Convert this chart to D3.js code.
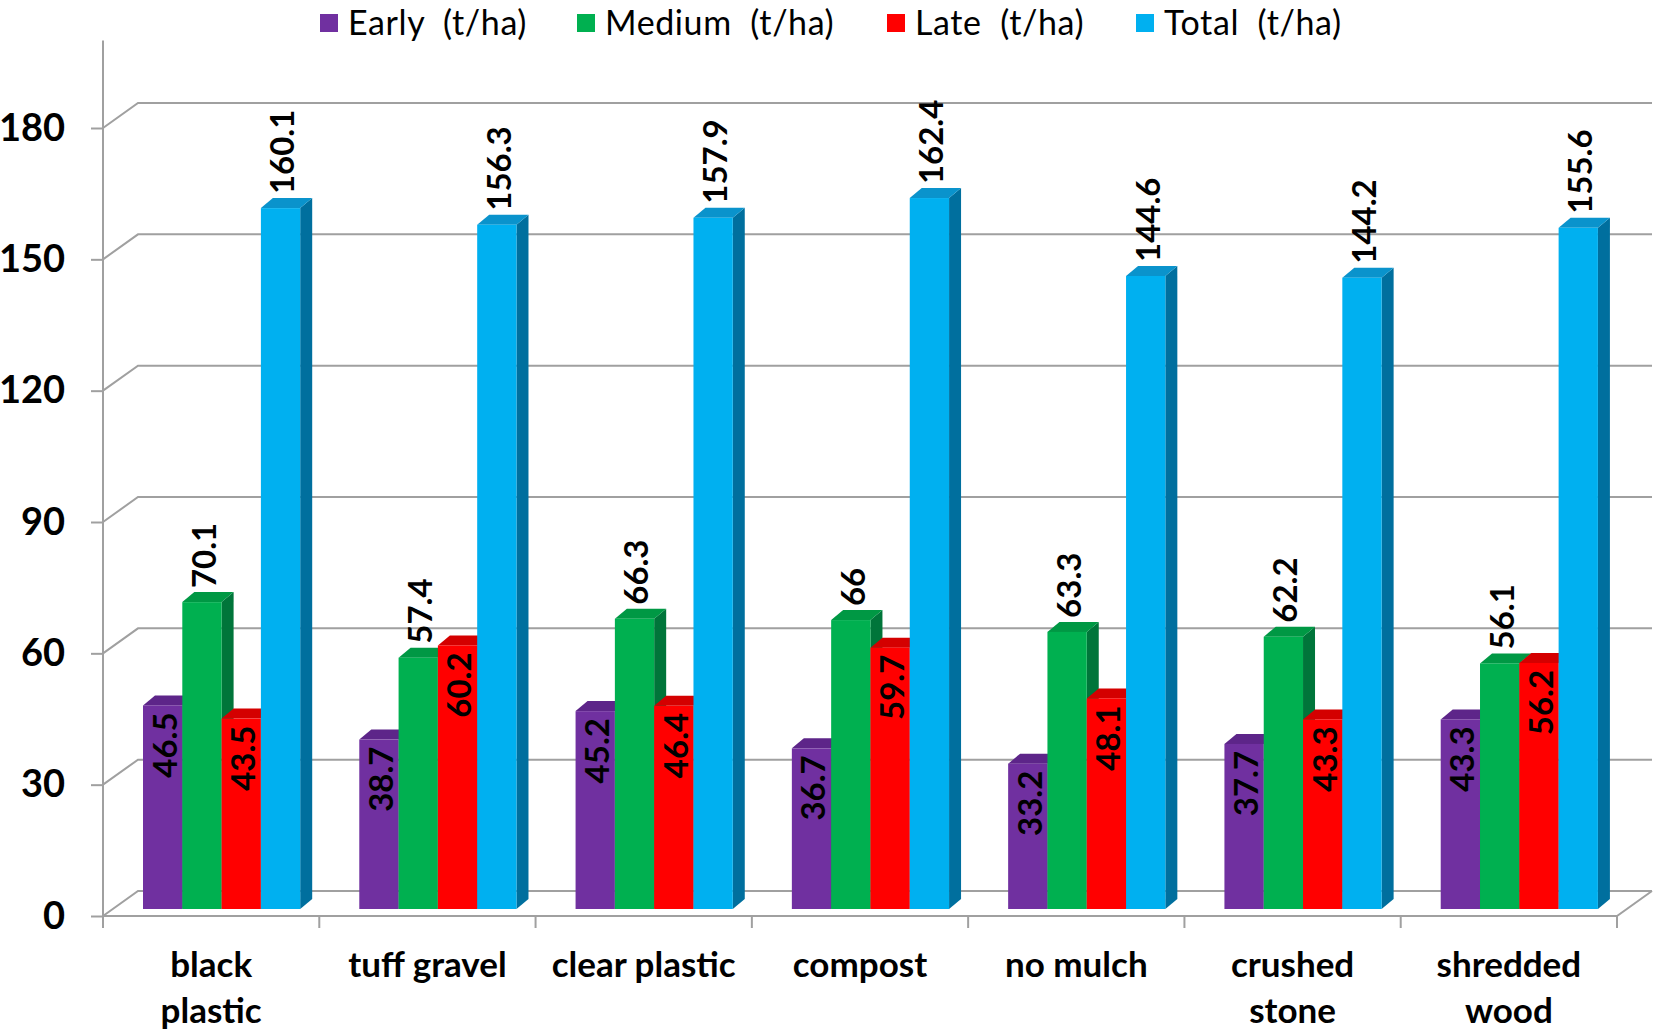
<!DOCTYPE html>
<html>
<head>
<meta charset="utf-8">
<script src="https://cdn.jsdelivr.net/npm/d3@7"></script>
<style>
  html, body { margin: 0; padding: 0; background: #ffffff; }
  svg { display: block; }
  text { font-family: Lato, "Open Sans", sans-serif; }
</style>
</head>
<body>
<svg id="chart" width="1656" height="1033"></svg>
<script>
// Yield by mulch type, in t/ha
const categories = ["black plastic", "tuff gravel", "clear plastic", "compost", "no mulch", "crushed stone", "shredded wood"];
const categoryLines = [["black", "plastic"], ["tuff gravel"], ["clear plastic"], ["compost"], ["no mulch"], ["crushed", "stone"], ["shredded", "wood"]];

const seriesNames = ["Early  (t/ha)", "Medium  (t/ha)", "Late  (t/ha)", "Total  (t/ha)"];
const early  = [46.5, 38.7, 45.2, 36.7, 33.2, 37.7, 43.3];
const medium = [70.1, 57.4, 66.3, 66, 63.3, 62.2, 56.1];
const late   = [43.5, 60.2, 46.4, 59.7, 48.1, 43.3, 56.2];
const total  = [160.1, 156.3, 157.9, 162.4, 144.6, 144.2, 155.6];
const yTicks = [0, 30, 60, 90, 120, 150, 180];

const seriesValues = [early, medium, late, total];
// label placement per series: inside the bar top or above it
const labelInside = [true, false, true, false];
const colors = {
  front: ["#7030a0", "#00b050", "#ff0000", "#00b0f0"],
  top:   ["#5d2589", "#009844", "#d40000", "#0a93cc"],
  side:  ["#4b1c6e", "#00753a", "#a80000", "#006f9e"]
};

const svg = d3.select("#chart");
const W = 1656, H = 1033;
svg.append("rect").attr("width", W).attr("height", H).attr("fill", "#ffffff");

// frame geometry
const plotLeft = 103, plotRight = 1617, plotBottom = 916, plotTop = 128;
const wallDx = 35, wallDy = 25;     // depth of the back wall
const barDx = 12, barDy = 10;       // depth of each column
const barLift = 7;                  // columns sit slightly behind the front edge

const x = d3.scaleBand().domain(categories).range([plotLeft, plotRight]).padding(0);
const xs = d3.scaleBand().domain(seriesNames).range([40, 40 + 157.2]).padding(0);
const y = d3.scaleLinear().domain([0, 180]).range([plotBottom, plotTop]);

const gridColor = "#a0a0a0";

// back wall gridlines and left wall diagonals
const grid = svg.append("g").attr("stroke", gridColor).attr("stroke-width", 2).attr("fill", "none");
yTicks.forEach(t => {
  const yy = y(t);
  grid.append("path")
    .attr("d", `M${plotLeft},${yy}L${plotLeft + wallDx},${yy - wallDy}L${plotRight + wallDx},${yy - wallDy}`);
});
// floor front edge and right edge
grid.append("path").attr("d", `M${plotLeft},${plotBottom}L${plotRight},${plotBottom}L${plotRight + wallDx},${plotBottom - wallDy}`);

// value axis
const yAxis = d3.axisLeft(y).tickValues(yTicks).tickSize(12).tickPadding(26).tickFormat(d3.format("d"));
const ya = svg.append("g").attr("transform", `translate(${plotLeft},0)`).call(yAxis);
ya.select(".domain").remove();
ya.selectAll(".tick line").attr("stroke", gridColor).attr("stroke-width", 2);
ya.selectAll(".tick text")
  .attr("font-family", "Lato, sans-serif")
  .attr("font-size", 38).attr("font-weight", "bold").attr("fill", "#000");
svg.append("line").attr("x1", plotLeft).attr("x2", plotLeft).attr("y1", y(200)).attr("y2", plotBottom + 12)
  .attr("stroke", gridColor).attr("stroke-width", 2);

// category ticks at band boundaries
const bounds = categories.map(c => x(c)).concat([plotRight]);
svg.append("g").selectAll("line").data(bounds).join("line")
  .attr("x1", d => d).attr("x2", d => d).attr("y1", plotBottom).attr("y2", plotBottom + 12)
  .attr("stroke", gridColor).attr("stroke-width", 2);

// columns, drawn left to right so each front face hides its neighbour's side
const base = y(0) - barLift;
const bars = svg.append("g");
const labels = svg.append("g");
categories.forEach((cat, i) => {
  seriesNames.forEach((s, k) => {
    const v = seriesValues[k][i];
    const x0 = x(cat) + xs(s), w = xs.bandwidth();
    const yt = y(v) - barLift;
    bars.append("path").attr("fill", colors.side[k])
      .attr("d", `M${x0 + w},${yt}L${x0 + w + barDx},${yt - barDy}L${x0 + w + barDx},${base - barDy}L${x0 + w},${base}Z`);
    bars.append("path").attr("fill", colors.top[k])
      .attr("d", `M${x0},${yt}L${x0 + w},${yt}L${x0 + w + barDx},${yt - barDy}L${x0 + barDx},${yt - barDy}Z`);
    bars.append("rect").attr("fill", colors.front[k])
      .attr("x", x0).attr("y", yt).attr("width", w).attr("height", base - yt);

    const cx = x0 + w / 2 + 2;
    const inside = labelInside[k];
    const ly = inside ? yt + 7 : yt - barDy - 4;
    labels.append("text")
      .attr("transform", `translate(${cx},${ly}) rotate(-90)`)
      .attr("text-anchor", inside ? "end" : "start")
      .attr("dy", "0.36em")
      .attr("font-size", 33).attr("font-weight", "bold").attr("fill", "#000")
      .text(String(v));
  });
});

// category labels
const cl = svg.append("g");
categories.forEach((cat, i) => {
  const cx = x(cat) + x.bandwidth() / 2;
  const t = cl.append("text")
    .attr("x", cx).attr("y", 977)
    .attr("text-anchor", "middle").attr("font-size", 35).attr("font-weight", "bold").attr("fill", "#000");
  categoryLines[i].forEach((ln, j) => {
    t.append("tspan").attr("x", cx).attr("y", 977 + j * 46).text(ln);
  });
});

// legend
const legendX = [320, 577, 887, 1136];
const lg = svg.append("g");
seriesNames.forEach((s, k) => {
  lg.append("rect").attr("x", legendX[k]).attr("y", 14).attr("width", 18).attr("height", 18)
    .attr("fill", colors.front[k]);
  lg.append("text").attr("x", legendX[k] + 28).attr("y", 35)
    .attr("font-size", 34).attr("letter-spacing", 0.6).attr("fill", "#000").style("white-space", "pre")
    .text(s);
});
</script>
</body>
</html>
